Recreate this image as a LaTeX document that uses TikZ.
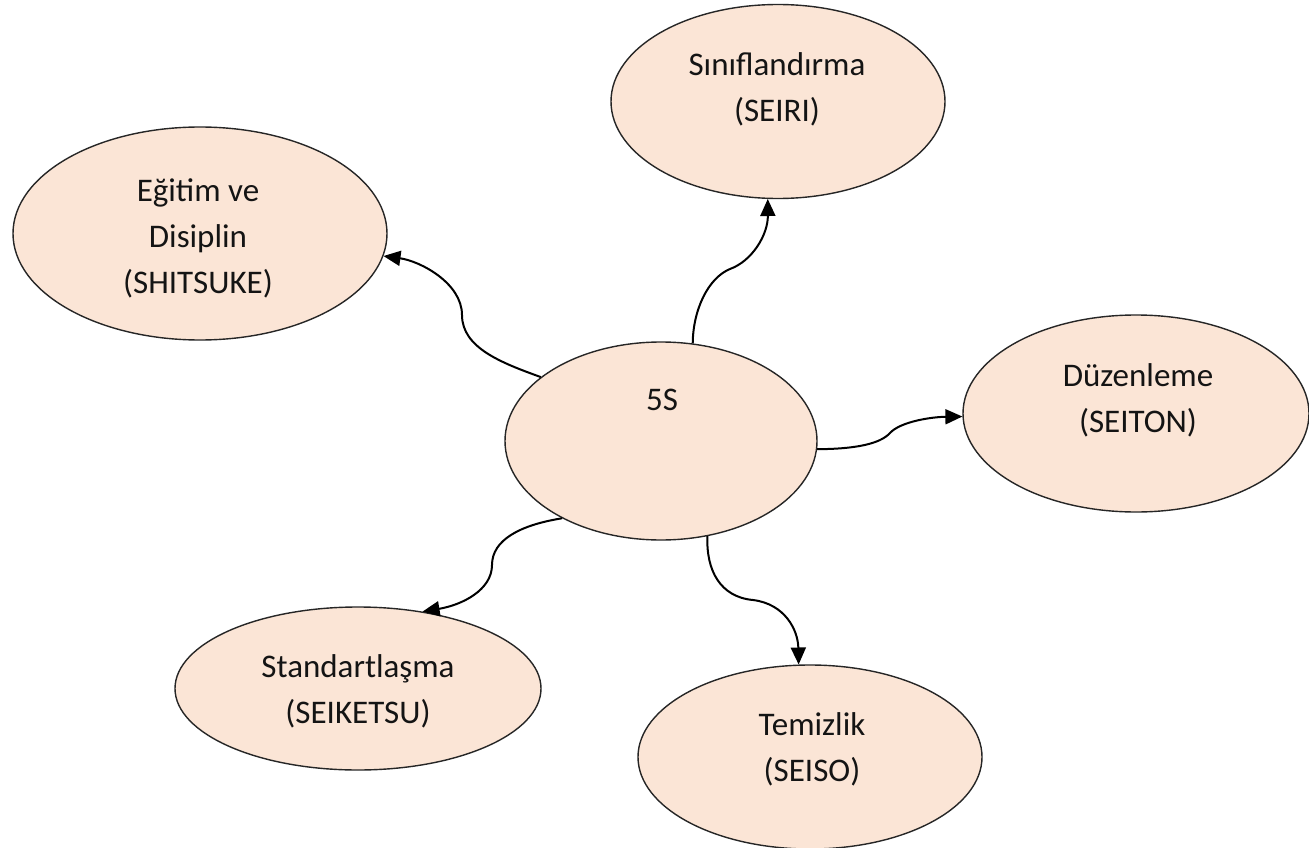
\documentclass[tikz,border=0pt]{standalone}
\usepackage{fontspec}
\setmainfont{Carlito}
\usetikzlibrary{shapes.geometric,arrows.meta}
\definecolor{peach}{HTML}{FBE5D6}
\definecolor{txt}{HTML}{141414}
\tikzset{
  bubble/.style={ellipse, draw=black!85, line width=1.4pt, fill=peach, inner sep=0pt},
  lbl/.style={align=center, text=txt, inner sep=0pt, font=\fontsize{33pt}{46pt}\selectfont},
  link/.style={line width=2pt, -{Triangle[length=17pt,width=15pt]}},
}
\begin{document}
\begin{tikzpicture}[x=1pt,y=-1pt]
\useasboundingbox (0,0) rectangle (1309,848);
\fill[white] (0,0) rectangle (1309,848);
% ellipses
\node[bubble, minimum width=312pt, minimum height=198pt] (e0) at (661,441) {};
\node[bubble, minimum width=334pt, minimum height=194pt] (e1) at (778,101.5) {};
\node[bubble, minimum width=346pt, minimum height=197pt] (e2) at (1136,413.5) {};
\node[bubble, minimum width=344pt, minimum height=184pt] (e3) at (810,757) {};
\node[bubble, minimum width=366pt, minimum height=163pt] (e4) at (358,688.5) {};
\node[bubble, minimum width=374pt, minimum height=213pt] (e5) at (200,233.5) {};
% texts
\node[lbl] (t0) at (662,400) {5S};
\node[lbl] (t1) at (777,89.5) {Sınıflandırma\\(SEIRI)};
\node[lbl] (t2) at (1138,400.5) {Düzenleme\\(SEITON)};
\node[lbl] (t3) at (812,749) {Temizlik\\(SEISO)};
\node[lbl] (t4) at (358,691.5) {Standartlaşma\\(SEIKETSU)};
\node[lbl] (t5) at (198,238.5) {Eğitim ve\\Disiplin\\(SHITSUKE)};
% bend points
\coordinate (m5) at (462,315);
\coordinate (m1) at (730,269);
\coordinate (m2) at (890,433);
\coordinate (m4) at (492,565);
\coordinate (m3) at (753,600);
% connectors
\draw[link] (e0.152) .. controls (502,363) and (462,348) .. (m5)
  .. controls (462,283) and (420,261) .. (e5.-7);
\draw[link] (e0.72) .. controls (693,310) and (708,278) .. (m1)
  .. controls (752,261) and (768,235) .. (e1.-96);
\draw[link] (e0.-3) .. controls (855,449) and (880,444) .. (m2)
  .. controls (900,422) and (930,417) .. (e2.181);
\draw[link] (e0.218) .. controls (520,525) and (492,540) .. (m4)
  .. controls (492,590) and (462,605) .. (e4.50);
\draw[link] (e0.-64) .. controls (706,570) and (720,597) .. (m3)
  .. controls (785,604) and (798,630) .. (e3.97);
\end{tikzpicture}
\end{document}
